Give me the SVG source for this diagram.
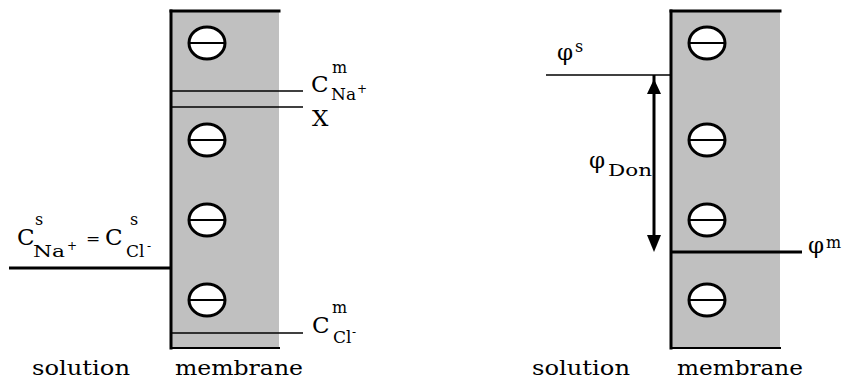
<svg xmlns="http://www.w3.org/2000/svg" width="845" height="380" viewBox="0 0 845 380">
<defs>
<style>
.mem{fill:#c0c0c0;stroke:none}
.edge{stroke:#000;fill:none;stroke-linecap:square}
.ion{fill:#fff;stroke:#000;stroke-width:3}
.bar{stroke:#000;stroke-width:2}
.thin{stroke:#000;stroke-width:1.6;fill:none}
.thick{stroke:#000;stroke-width:3;fill:none}
.head{fill:#000;stroke:none}
text{font-family:"DejaVu Serif","Liberation Serif",serif;fill:#000}
.big{font-size:23px}
.sub{font-size:17px}
.sup{font-size:16px}
.tiny{font-size:12px}
.lbl{font-size:21px}
</style>
<g id="anion">
<ellipse class="ion" cx="0" cy="0" rx="18" ry="16"/>
<line class="bar" x1="-17" y1="0" x2="17" y2="0"/>
</g>
</defs>

<g id="membrane-left">
<rect class="mem" x="171" y="11" width="108" height="337"/>
<line class="edge" x1="171" y1="11" x2="279" y2="11" stroke-width="3"/>
<line class="edge" x1="171" y1="348" x2="279" y2="348" stroke-width="2"/>
<line class="edge" x1="171" y1="11" x2="171" y2="348" stroke-width="3"/>
</g>
<g id="ions-left">
<use href="#anion" x="207" y="43"/>
<use href="#anion" x="207" y="140"/>
<use href="#anion" x="207" y="220"/>
<use href="#anion" x="207" y="300"/>
</g>

<g id="membrane-right">
<rect class="mem" x="671" y="11" width="109" height="337"/>
<line class="edge" x1="671" y1="11" x2="780" y2="11" stroke-width="3"/>
<line class="edge" x1="671" y1="348" x2="780" y2="348" stroke-width="2"/>
<line class="edge" x1="671" y1="11" x2="671" y2="348" stroke-width="3"/>
</g>
<g id="ions-right">
<use href="#anion" x="707" y="43"/>
<use href="#anion" x="707" y="140"/>
<use href="#anion" x="707" y="220"/>
<use href="#anion" x="707" y="300"/>
</g>

<g id="connectors">
<line class="thin" x1="172" y1="91" x2="303" y2="91"/>
<line class="thin" x1="172" y1="107" x2="303" y2="107"/>
<line class="thin" x1="172" y1="333" x2="303" y2="333"/>
<line class="thick" x1="9" y1="268" x2="171" y2="268"/>
<line class="thin" x1="546" y1="75" x2="671" y2="75" stroke-width="2"/>
<line class="thick" x1="671" y1="252" x2="802" y2="252"/>
<line class="thick" x1="654" y1="75" x2="654" y2="240"/>
<path class="head" d="M654,79 L661,94 L647,94 Z"/>
<path class="head" d="M654,252 L661,235 L647,235 Z"/>
</g>

<g id="labels-left">
<text class="big" x="311" y="92">C</text>
<text class="sup" x="332" y="73">m</text>
<text class="sub" x="331" y="100">Na</text>
<text class="tiny" x="357" y="93">+</text>
<text class="big" x="312" y="126">X</text>
<text class="big" x="312" y="333">C</text>
<text class="sup" x="332" y="313">m</text>
<text class="sub" x="333" y="343">Cl</text>
<text class="tiny" x="352" y="336">-</text>
<text class="big" x="17" y="245">C</text>
<text class="sup" x="35" y="225">s</text>
<text class="sub" x="33" y="257" textLength="32" lengthAdjust="spacingAndGlyphs">Na</text>
<text class="tiny" x="67" y="250">+</text>
<text class="sub" x="86" y="244">=</text>
<text class="big" x="105" y="245">C</text>
<text class="sup" x="130" y="225">s</text>
<text class="sub" x="126" y="257">Cl</text>
<text class="tiny" x="147" y="250">-</text>
<text class="lbl" x="32" y="375" textLength="98" lengthAdjust="spacingAndGlyphs">solution</text>
<text class="lbl" x="175" y="375" textLength="128" lengthAdjust="spacingAndGlyphs">membrane</text>
</g>

<g id="labels-right">
<text class="big" x="557" y="60">φ</text>
<text class="sup" x="575" y="52">s</text>
<text class="big" x="589" y="168">φ</text>
<text class="sub" x="608" y="176" textLength="44" lengthAdjust="spacingAndGlyphs">Don</text>
<text class="big" x="808" y="253">φ</text>
<text class="sup" x="826" y="248" font-size="15">m</text>
<text class="lbl" x="532" y="375" textLength="98" lengthAdjust="spacingAndGlyphs">solution</text>
<text class="lbl" x="677" y="375" textLength="126" lengthAdjust="spacingAndGlyphs">membrane</text>
</g>
</svg>
